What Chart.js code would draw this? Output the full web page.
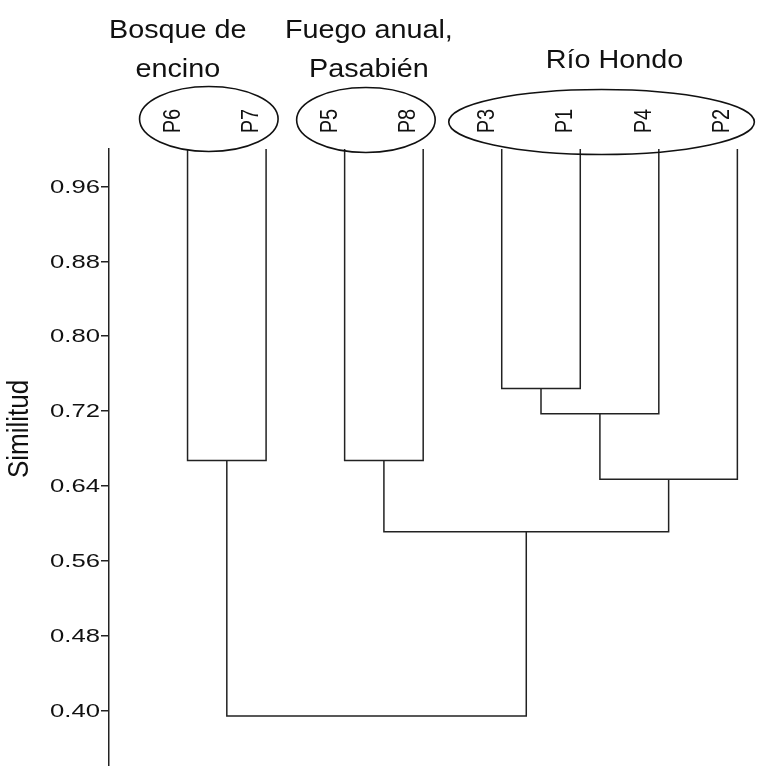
<!DOCTYPE html>
<html lang="es">
  <head>
    <meta charset="UTF-8" />
    <title>Dendrograma de similitud</title>
    <script src="https://cdn.jsdelivr.net/npm/chart.js"></script>
    <style>
      html, body { margin: 0; padding: 0; background: #fff; }
      #wrap { width: 757px; height: 766px; }
    </style>
  </head>
  <body>
    <div id="wrap"><canvas id="dendro"></canvas></div>
    <script>
      // hojas en el orden del dendrograma
      const leaves = ["P6", "P7", "P5", "P8", "P3", "P1", "P4", "P2"];
      const leafTop = 1.0;
      // uniones: nodo, hijo izquierdo, hijo derecho, similitud
      const mergeName = ["N1", "N2", "N3", "N4", "N5", "N6", "N7"];
      const mergeLeft = ["P6", "P5", "P3", "N3", "N4", "N2", "N1"];
      const mergeRight = ["P7", "P8", "P1", "P4", "P2", "N5", "N6"];
      const mergeHeight = [0.667, 0.667, 0.744, 0.717, 0.647, 0.591, 0.394];
      const yTicks = [0.40, 0.48, 0.56, 0.64, 0.72, 0.80, 0.88, 0.96];
      const groupNames = [["Bosque de", "encino"], ["Fuego anual,", "Pasabién"], ["Río Hondo"]];
      const groupLeaves = [["P6", "P7"], ["P5", "P8"], ["P3", "P1", "P4", "P2"]];

      const FONT = "'Liberation Sans', Arial, sans-serif";

      // posiciones de los nodos en unidades del eje x (hoja i -> i)
      const nodeX = {};
      const nodeY = {};
      leaves.forEach((l, i) => { nodeX[l] = i; nodeY[l] = leafTop; });
      mergeName.forEach((n, i) => {
        nodeX[n] = (nodeX[mergeLeft[i]] + nodeX[mergeRight[i]]) / 2;
        nodeY[n] = mergeHeight[i];
      });

      const datasets = mergeName.map((n, i) => {
        const a = mergeLeft[i], b = mergeRight[i], h = mergeHeight[i];
        return {
          data: [
            { x: nodeX[a], y: nodeY[a] },
            { x: nodeX[a], y: h },
            { x: nodeX[b], y: h },
            { x: nodeX[b], y: nodeY[b] },
          ],
          showLine: true,
          borderColor: "#222",
          borderWidth: 1.5,
          pointRadius: 0,
          fill: false,
          tension: 0,
          clip: false,
        };
      });

      // texto un poco ensanchado, como en la figura original
      function stretchedText(ctx, text, x, y, rotate, sx) {
        ctx.save();
        ctx.translate(x, y);
        ctx.scale(sx, 1);
        if (rotate) ctx.rotate(-Math.PI / 2);
        ctx.fillText(text, 0, 0);
        ctx.restore();
      }

      const labelsPlugin = {
        id: "dendroLabels",
        afterDraw(chart) {
          const ctx = chart.ctx;
          const xs = chart.scales.x;
          const ys = chart.scales.y;
          ctx.save();
          ctx.fillStyle = "#111";

          // etiquetas del eje y
          ctx.font = "19px " + FONT;
          ctx.textAlign = "right";
          ctx.textBaseline = "middle";
          yTicks.forEach((v) => {
            stretchedText(ctx, v.toFixed(2), 100, ys.getPixelForValue(v) + 1, false, 1.35);
          });

          // título del eje
          ctx.font = "26px " + FONT;
          ctx.textAlign = "center";
          ctx.textBaseline = "middle";
          stretchedText(ctx, "Similitud", 20, 429, true, 1.15);

          // etiquetas de las hojas
          ctx.font = "20px " + FONT;
          ctx.textAlign = "center";
          ctx.textBaseline = "alphabetic";
          leaves.forEach((l) => {
            stretchedText(ctx, l, xs.getPixelForValue(nodeX[l]) - 8, 121, true, 1.2);
          });

          // elipses y nombres de grupo
          const labelShift = [-31, 3, 13];
          const ellipseY = [119, 120, 122];
          ctx.strokeStyle = "#111";
          ctx.lineWidth = 1.6;
          groupLeaves.forEach((g, gi) => {
            const x0 = xs.getPixelForValue(nodeX[g[0]]) - 18;
            const x1 = xs.getPixelForValue(nodeX[g[g.length - 1]]) - 18;
            const cx = (x0 + x1) / 2;
            const rx = (x1 - x0) / 2 + (g.length > 2 ? 35 : 30);
            ctx.beginPath();
            ctx.ellipse(cx, ellipseY[gi], rx, 32.5, 0, 0, Math.PI * 2);
            ctx.stroke();

            ctx.font = "25px " + FONT;
            ctx.textAlign = "center";
            ctx.textBaseline = "alphabetic";
            const lines = groupNames[gi];
            if (lines.length === 1) {
              stretchedText(ctx, lines[0], cx + labelShift[gi], 68, false, 1.15);
            } else {
              stretchedText(ctx, lines[0], cx + labelShift[gi], 38, false, 1.15);
              stretchedText(ctx, lines[1], cx + labelShift[gi], 77, false, 1.15);
            }
          });
          ctx.restore();
        },
      };

      new Chart(document.getElementById("dendro"), {
        type: "scatter",
        data: { datasets: datasets },
        options: {
          responsive: true,
          maintainAspectRatio: false,
          animation: false,
          layout: { padding: { top: 149, right: 0, bottom: 0, left: 0 } },
          plugins: {
            legend: { display: false },
            tooltip: { enabled: false },
          },
          scales: {
            x: {
              type: "linear",
              display: false,
              min: -1,
              max: 7.25,
            },
            y: {
              type: "linear",
              min: 0.3406,
              max: 1.0,
              afterBuildTicks: (scale) => {
                scale.ticks = yTicks.map((v) => ({ value: v }));
              },
              afterFit: (scale) => {
                scale.width = 109;
              },
              ticks: { display: false },
              grid: {
                drawOnChartArea: false,
                drawTicks: true,
                tickLength: 8,
                color: "#222",
                lineWidth: 1.5,
              },
              border: { display: true, color: "#222", width: 1.5 },
            },
          },
        },
        plugins: [labelsPlugin],
      });
    </script>
  </body>
</html>
